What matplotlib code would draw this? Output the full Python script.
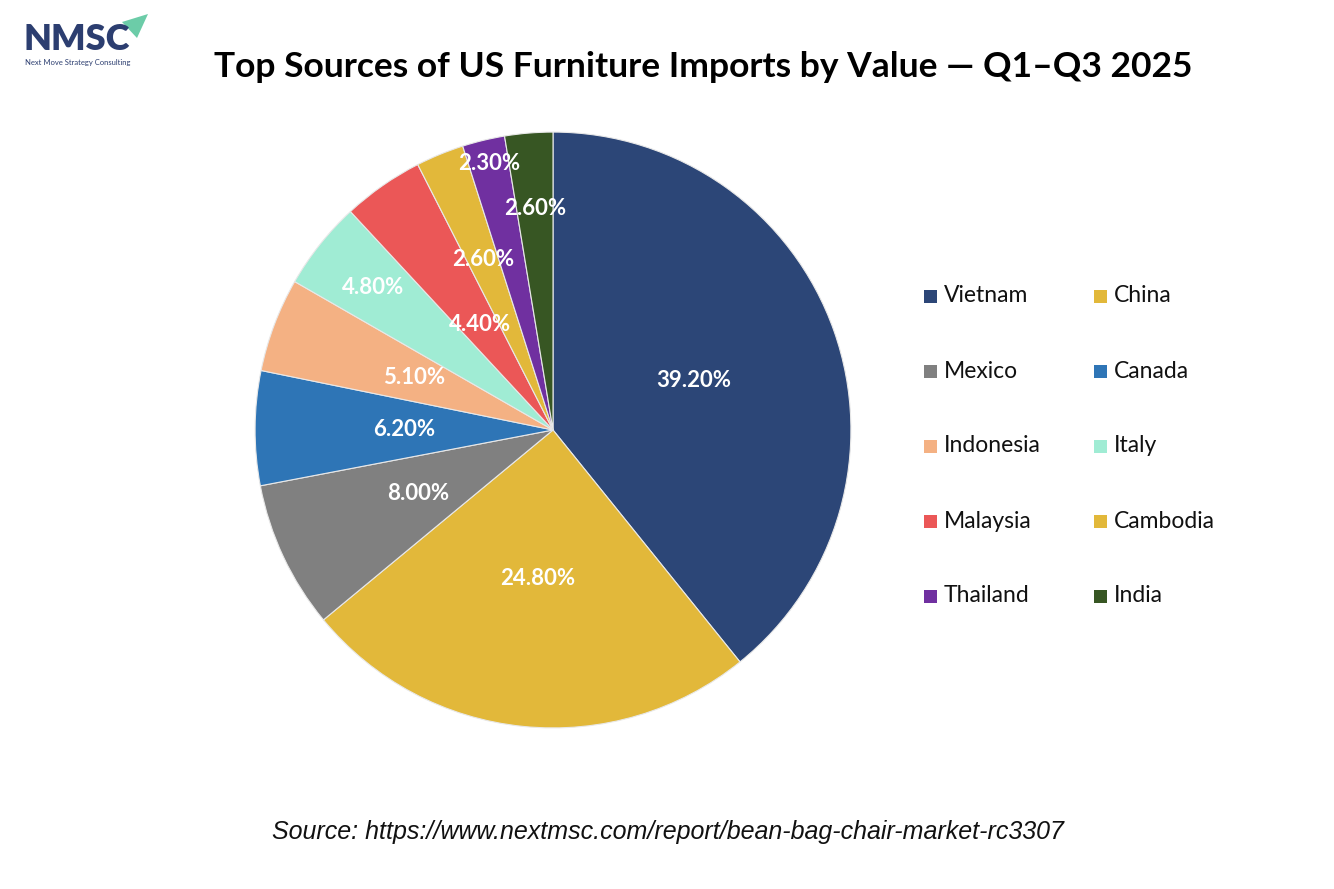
import numpy as np
import matplotlib.pyplot as plt
from matplotlib.patches import Rectangle, Polygon

# data
countries = ['Vietnam', 'China', 'Mexico', 'Canada', 'Indonesia',
             'Italy', 'Malaysia', 'Cambodia', 'Thailand', 'India']
shares = [39.2, 24.8, 8.0, 6.2, 5.1, 4.8, 4.4, 2.6, 2.3, 2.6]
colors = ['#2C4677', '#E2B83A', '#808080', '#2E75B6', '#F4B183',
          '#A0ECD4', '#EB5757', '#E2B83A', '#7030A0', '#375623']
# radial position of each percentage label (fraction of radius)
label_dist = [0.5, 0.5, 0.5, 0.5, 0.5, 0.77, 0.43, 0.62, 0.92, 0.745]

W, H = 1334, 889
fig = plt.figure(figsize=(W / 100, H / 100), dpi=100)
fig.patch.set_facecolor('white')

# pie axes, centered at (553, 430) px with radius ~298 px
cx, cy, half = 553, 430, 300
ax = fig.add_axes([(cx - half) / W, (H - cy - half) / H, 2 * half / W, 2 * half / H])
wedges, texts, autotexts = ax.pie(shares, colors=colors, startangle=90, counterclock=False,
                                  radius=1.0, autopct='%.2f%%', pctdistance=0.5,
                                  wedgeprops=dict(edgecolor='#e8e8e8', linewidth=0.8),
                                  textprops=dict(color='white', fontsize=16,
                                                 fontweight='bold', family='Lato'))
for w, t, d in zip(wedges, autotexts, label_dist):
    ang = np.deg2rad((w.theta1 + w.theta2) / 2)
    t.set_position((d * np.cos(ang), d * np.sin(ang)))
    t.set_ha('center')
    t.set_va('center')
ax.set_xlim(-1.007, 1.007)
ax.set_ylim(-1.007, 1.007)
ax.set_aspect('equal')
ax.axis('off')

# legend, two columns
col_x = [924, 1094]
row_y0, row_step = 296, 75
for i, (name, c) in enumerate(zip(countries, colors)):
    row, col = i // 2, i % 2
    x = col_x[col]
    y = row_y0 + row * row_step
    fig.patches.append(Rectangle(((x) / W, (H - y - 6.5) / H), 13 / W, 13 / H,
                                 transform=fig.transFigure, facecolor=c, edgecolor='none'))
    fig.text((x + 20) / W, (H - y) / H, name, fontsize=16.5, family='Lato',
             ha='left', va='center', color='#111111')

# title
fig.text(703 / W, (H - 67) / H, 'Top Sources of US Furniture Imports by Value \u2014 Q1\u2013Q3 2025',
         fontsize=25.5, fontweight='bold', family='Lato', ha='center', va='center', color='black')

# source
fig.text(668 / W, (H - 832) / H, 'Source: https://www.nextmsc.com/report/bean-bag-chair-market-rc3307',
         fontsize=18, style='italic', family='Liberation Sans', ha='center', va='center',
         color='#111111')

# logo
fig.text(24 / W, (H - 40) / H, 'NMSC', fontsize=26, fontweight='heavy', family='Lato',
         ha='left', va='center', color='#2C3E70')
fig.text(25 / W, (H - 62) / H, 'Next Move Strategy Consulting', fontsize=5.5, family='Lato',
         ha='left', va='center', color='#2C3E70')
fig.patches.append(Polygon([(122 / W, (H - 22) / H), (148 / W, (H - 14) / H),
                            (137 / W, (H - 38) / H)], closed=True,
                           transform=fig.transFigure, facecolor='#6CCCA8', edgecolor='none'))

fig.savefig('out.png', dpi=100, facecolor='white')
